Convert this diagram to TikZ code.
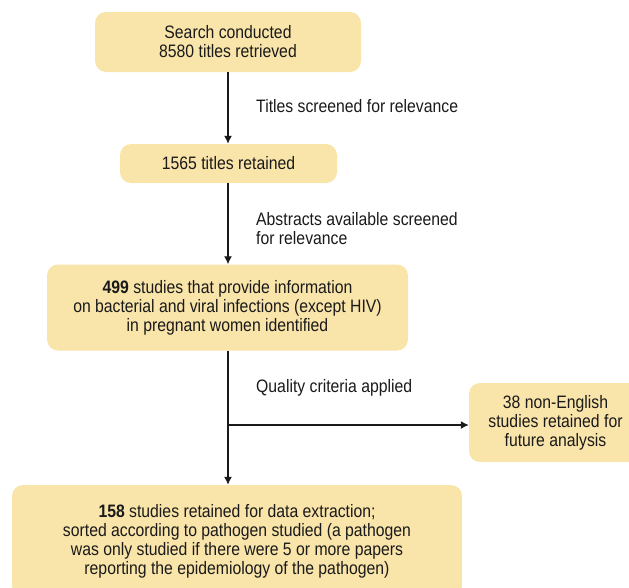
\documentclass[tikz,border=0pt]{standalone}
\usepackage{fontspec}
\setmainfont{Liberation Sans}[FakeStretch=0.876]
\usetikzlibrary{arrows.meta}
\definecolor{boxfill}{HTML}{F9E4A9}
\definecolor{ink}{HTML}{1A1A1A}
\tikzset{
  flowbox/.style={draw=none, fill=boxfill, rounded corners=11pt, align=center,
    inner sep=0pt, text=ink, font=\fontsize{18}{19}\selectfont},
  lbl/.style={anchor=west, align=left, inner sep=0pt, text=ink,
    font=\fontsize{18}{19}\selectfont},
  conn/.style={draw=ink, line width=1.3pt, -{Latex[length=8pt,width=8pt]}}
}
\begin{document}
\begin{tikzpicture}[x=1pt,y=-1pt]
\useasboundingbox (0,0) rectangle (629,587);
\clip (0,0) rectangle (629,587);
\node[flowbox, minimum width=266pt, minimum height=60pt] (b1) at (228,42)
  {Search conducted\\8580 titles retrieved};
\node[flowbox, minimum width=217pt, minimum height=39pt] (b2) at (228.5,163.5)
  {1565 titles retained};
\node[flowbox, minimum width=361pt, minimum height=86pt] (b3) at (227.5,307.5)
  {\textbf{499} studies that provide information\\on bacterial and viral infections (except HIV)\\in pregnant women identified};
\node[flowbox, minimum width=173pt, minimum height=79pt] (b4) at (555.5,422.5)
  {38 non-English\\studies retained for\\future analysis};
\node[flowbox, minimum width=450pt, minimum height=112pt] (b5) at (237,541)
  {\textbf{158} studies retained for data extraction;\\sorted according to pathogen studied (a pathogen\\was only studied if there were 5 or more papers\\reporting the epidemiology of the pathogen)};
\node[lbl] (l1) at (256,106) {Titles screened for relevance};
\node[lbl] (l2) at (256,228.5) {Abstracts available screened\\for relevance};
\node[lbl] (l3) at (256,388) {Quality criteria applied};
\coordinate (split) at (228,425);
\draw[conn] (b1.south -| 228,0) -- (b2.north -| 228,0);
\draw[conn] (b2.south -| 228,0) -- (b3.north -| 228,0);
\draw[conn] (b3.south -| 228,0) -- (b5.north -| 228,0);
\draw[conn] (split) -- (split -| b4.west);
\end{tikzpicture}
\end{document}
